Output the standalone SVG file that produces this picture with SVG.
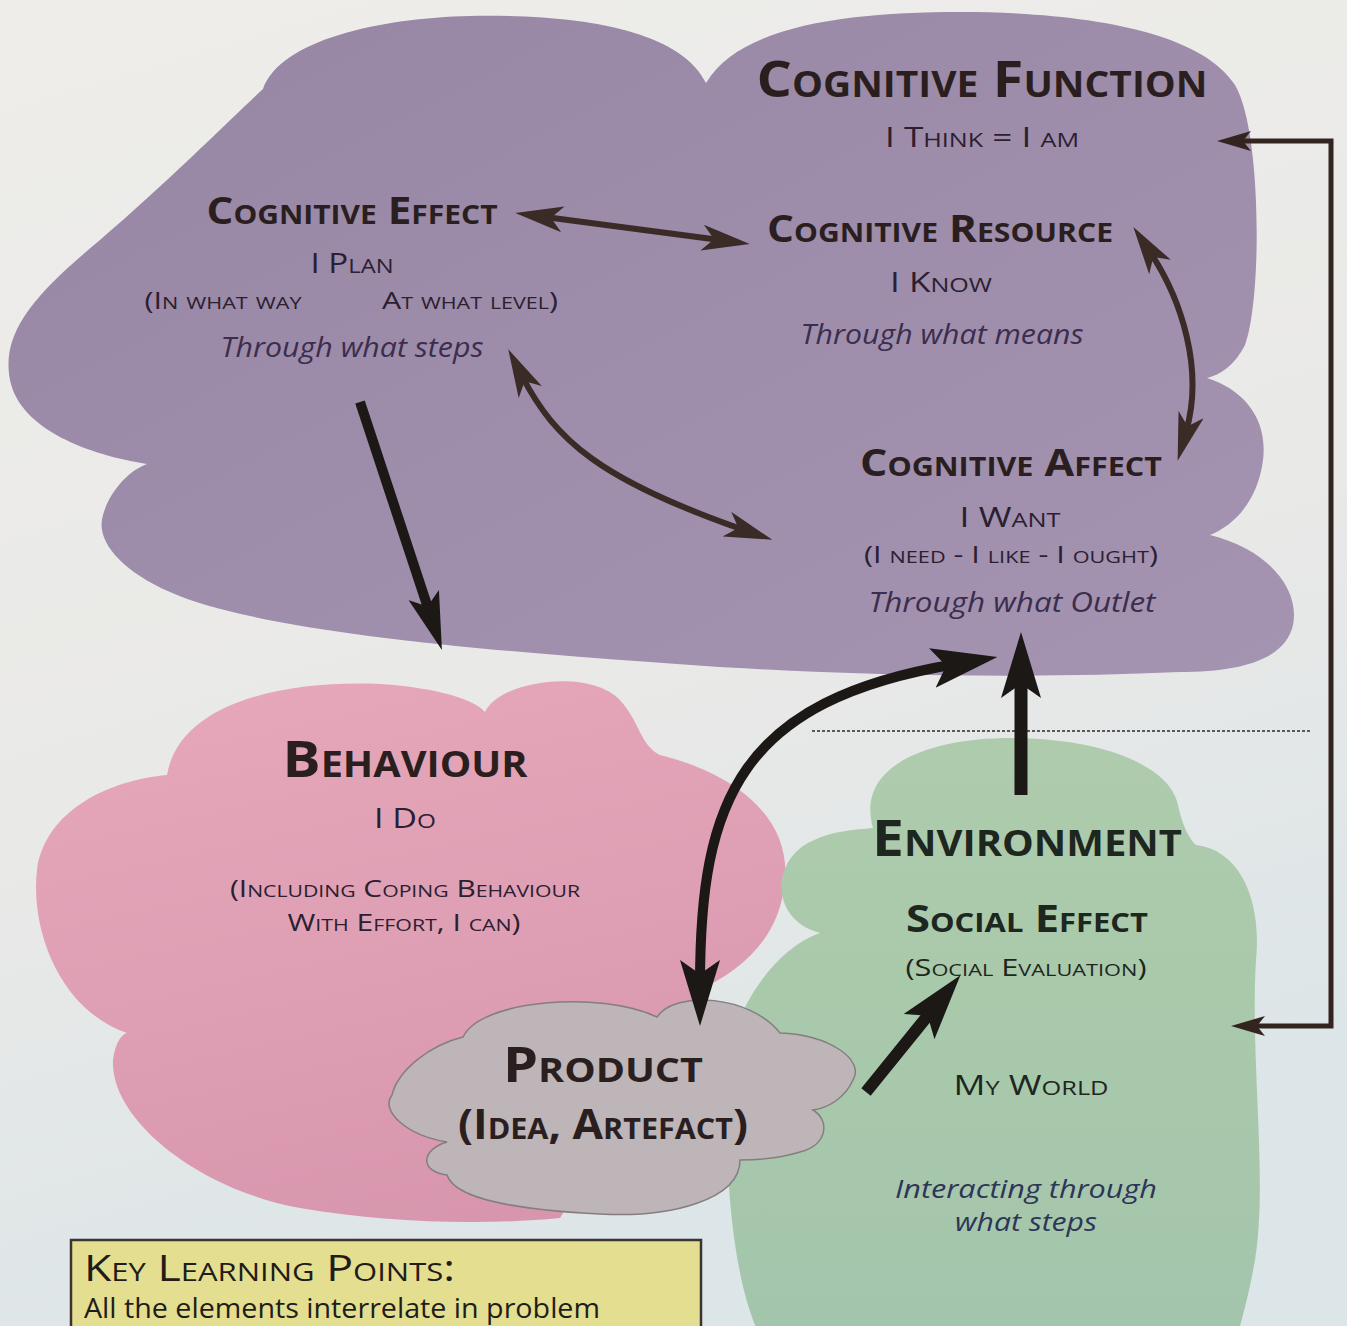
<svg xmlns="http://www.w3.org/2000/svg" width="1347" height="1326" viewBox="0 0 1347 1326">
  <defs>
    <linearGradient id="bg" x1="0" y1="0" x2="0.3" y2="1">
      <stop offset="0" stop-color="#eeedea"/>
      <stop offset="0.6" stop-color="#e9e9e7"/>
      <stop offset="1" stop-color="#dce5e8"/>
    </linearGradient>
    <linearGradient id="purple" x1="0" y1="0" x2="1" y2="1">
      <stop offset="0" stop-color="#9785a4"/>
      <stop offset="1" stop-color="#a494b1"/>
    </linearGradient>
    <linearGradient id="pink" x1="0.3" y1="0" x2="0.6" y2="1">
      <stop offset="0" stop-color="#e6a7ba"/>
      <stop offset="1" stop-color="#d796ad"/>
    </linearGradient>
    <linearGradient id="green" x1="0" y1="0" x2="0" y2="1">
      <stop offset="0" stop-color="#aeccac"/>
      <stop offset="1" stop-color="#a3c5ab"/>
    </linearGradient>
    <marker id="mb" viewBox="0 -13 48 26" refX="18" refY="0" markerWidth="48" markerHeight="26" markerUnits="userSpaceOnUse" orient="auto-start-reverse">
      <path d="M0,-13 L48,0 L0,13 L12,0 Z" fill="#3a2b27"/>
    </marker>
    <marker id="mk" viewBox="0 -16 58 32" refX="20" refY="0" markerWidth="58" markerHeight="32" markerUnits="userSpaceOnUse" orient="auto-start-reverse">
      <path d="M0,-16 L58,0 L0,16 L12,0 Z" fill="#1c1816"/>
    </marker>
    <marker id="mK" viewBox="0 -20 66 40" refX="24" refY="0" markerWidth="66" markerHeight="40" markerUnits="userSpaceOnUse" orient="auto-start-reverse">
      <path d="M0,-20 L66,0 L0,20 L14,0 Z" fill="#1c1816"/>
    </marker>
    <marker id="mt" viewBox="0 -10 34 20" refX="10" refY="0" markerWidth="34" markerHeight="20" markerUnits="userSpaceOnUse" orient="auto-start-reverse">
      <path d="M0,-10 L34,0 L0,10 L8,0 Z" fill="#33241f"/>
    </marker>
  </defs>
  <style>
    text { font-family: "Open Sans", "Noto Sans", "Liberation Sans", sans-serif; text-anchor: middle; }
    .sc { font-variant: small-caps; }
    .t1 { font-size: 50px; font-weight: 700; fill: #2a1f1e; }
    .t2 { font-size: 38px; font-weight: 700; fill: #2a1f1e; }
    .s1 { font-size: 28px; font-weight: 500; fill: #2b2030; }
    .s2 { font-size: 24px; font-weight: 500; fill: #2b2030; }
    .it { font-size: 27px; font-style: italic; font-weight: 500; fill: #3b2d4d; }
    .itg { font-size: 25px; font-style: italic; font-weight: 500; fill: #2d3558; }
    .g { fill: #1e2620; }
    .ab { fill: none; stroke: #3a2b27; stroke-width: 6; }
    .ak { fill: none; stroke: #1c1816; }
  </style>
  <rect x="0" y="0" width="1347" height="1326" fill="url(#bg)"/>

  <g id="cognitive-function">
    <path d="M263,89 C280,40 380,18 470,16 C580,14 680,30 706,83 C740,25 850,12 960,12 C1080,12 1200,30 1235,85 C1262,130 1262,300 1245,345 C1235,365 1220,375 1207,378 C1245,390 1268,420 1263,460 C1258,500 1235,525 1210,535 C1270,550 1300,590 1293,625 C1285,660 1240,672 1180,672 C1000,680 800,674 650,662 C450,648 250,628 170,592 C120,570 95,540 103,515 C110,490 130,470 147,464 C90,455 20,430 10,380 C0,330 40,290 100,240 C170,180 240,110 263,89 Z" fill="url(#purple)"/>
    <text class="t1 sc" x="982" y="97" textLength="451" lengthAdjust="spacingAndGlyphs">Cognitive Function</text>
    <text class="s1 sc" x="982" y="147" textLength="194" lengthAdjust="spacingAndGlyphs">I Think = I am</text>
  </g>

  <g id="cognitive-effect">
    <text class="t2 sc" x="352" y="224" textLength="291" lengthAdjust="spacingAndGlyphs">Cognitive Effect</text>
    <text class="s1 sc" x="352" y="273" textLength="83" lengthAdjust="spacingAndGlyphs">I Plan</text>
    <text class="s2 sc" x="223" y="309" textLength="157" lengthAdjust="spacingAndGlyphs">(In what way</text>
    <text class="s2 sc" x="470" y="309" textLength="176" lengthAdjust="spacingAndGlyphs">At what level)</text>
    <text class="it" x="352" y="357" textLength="263" lengthAdjust="spacingAndGlyphs">Through what steps</text>
  </g>

  <g id="cognitive-resource">
    <text class="t2 sc" x="940" y="242" textLength="346" lengthAdjust="spacingAndGlyphs">Cognitive Resource</text>
    <text class="s1 sc" x="941" y="292" textLength="102" lengthAdjust="spacingAndGlyphs">I Know</text>
    <text class="it" x="942" y="344" textLength="283" lengthAdjust="spacingAndGlyphs">Through what means</text>
  </g>

  <g id="cognitive-affect">
    <text class="t2 sc" x="1011" y="476" textLength="302" lengthAdjust="spacingAndGlyphs">Cognitive Affect</text>
    <text class="s1 sc" x="1010" y="527" textLength="101" lengthAdjust="spacingAndGlyphs">I Want</text>
    <text class="s2 sc" x="1011" y="563" textLength="294" lengthAdjust="spacingAndGlyphs">(I need - I like - I ought)</text>
    <text class="it" x="1012" y="612" textLength="287" lengthAdjust="spacingAndGlyphs">Through what Outlet</text>
  </g>

  <g id="behaviour">
    <path d="M167,775 C180,700 290,680 380,684 C440,688 475,700 485,712 C500,680 590,668 620,700 C640,722 640,745 660,755 C740,775 790,820 785,880 C780,940 740,970 700,990 L560,1218 C480,1226 380,1222 300,1208 C200,1190 110,1120 113,1060 C115,1045 120,1035 127,1033 C60,1010 30,930 37,870 C45,810 110,780 167,775 Z" fill="url(#pink)"/>
    <text class="t1 sc" x="405" y="777" textLength="245" lengthAdjust="spacingAndGlyphs">Behaviour</text>
    <text class="s1 sc" x="405" y="828" textLength="62" lengthAdjust="spacingAndGlyphs">I Do</text>
    <text class="s2 sc" x="405" y="897" textLength="350" lengthAdjust="spacingAndGlyphs">(Including Coping Behaviour</text>
    <text class="s2 sc" x="404" y="931" textLength="233" lengthAdjust="spacingAndGlyphs">With Effort, I can)</text>
  </g>

  <g id="environment">
    <path d="M873,828 C855,765 930,738 1010,738 C1100,738 1170,765 1178,805 C1182,825 1190,840 1196,845 C1240,850 1262,900 1256,960 C1250,1060 1268,1180 1255,1260 C1248,1300 1240,1326 1236,1340 L762,1340 C730,1280 722,1150 730,1060 C730,1020 770,950 820,933 C770,920 770,860 812,841 C835,830 855,830 873,828 Z" fill="url(#green)"/>
    <text class="t1 sc g" x="1027" y="856" textLength="310" lengthAdjust="spacingAndGlyphs">Environment</text>
    <text class="t2 sc g" x="1027" y="932" textLength="242" lengthAdjust="spacingAndGlyphs">Social Effect</text>
    <text class="s2 sc g" x="1026" y="976" textLength="241" lengthAdjust="spacingAndGlyphs">(Social Evaluation)</text>
    <text class="s1 sc g" x="1031" y="1095" textLength="155" lengthAdjust="spacingAndGlyphs">My World</text>
    <text class="itg" x="1026" y="1198" textLength="262" lengthAdjust="spacingAndGlyphs">Interacting through</text>
    <text class="itg" x="1026" y="1231" textLength="142" lengthAdjust="spacingAndGlyphs">what steps</text>
  </g>

  <g id="product">
    <path d="M463,1037 C480,1000 600,990 657,1017 C675,990 750,995 780,1033 C830,1035 865,1060 853,1080 C845,1098 828,1108 813,1110 C830,1120 828,1145 800,1152 C780,1158 760,1160 740,1160 C740,1200 670,1218 600,1214 C520,1210 455,1200 447,1175 C420,1172 420,1150 447,1142 C405,1135 380,1110 392,1095 C398,1070 430,1045 463,1037 Z" fill="#bdb5b8" stroke="#857d81" stroke-width="1.5"/>
    <text class="t1 sc" x="603" y="1082" style="font-size:48px" textLength="200" lengthAdjust="spacingAndGlyphs">Product</text>
    <text class="t1 sc" x="603" y="1139" style="font-size:42px" textLength="290" lengthAdjust="spacingAndGlyphs">(Idea, Artefact)</text>
  </g>

  <g id="key-learning-points">
    <rect x="71" y="1240" width="630" height="100" fill="#e4de90" stroke="#3a3530" stroke-width="2.5"/>
    <text class="sc" x="84" y="1281" style="text-anchor:start;font-size:36px;font-weight:500;fill:#221c18" textLength="371" lengthAdjust="spacingAndGlyphs">Key Learning Points:</text>
    <text x="84" y="1318" style="text-anchor:start;font-size:27px;font-weight:500;fill:#221c18" textLength="516" lengthAdjust="spacingAndGlyphs">All the elements interrelate in problem</text>
  </g>

  <g id="connectors">
    <line x1="812" y1="731" x2="1312" y2="731" stroke="#5a5a5a" stroke-width="2" stroke-dasharray="3 2"/>
    <path class="ab" d="M545,217 L720,240" marker-start="url(#mb)" marker-end="url(#mb)"/>
    <path class="ab" d="M1150,252 C1182,300 1204,370 1186,432" marker-start="url(#mb)" marker-end="url(#mb)"/>
    <path class="ab" d="M522,376 C555,440 600,480 744,530" marker-start="url(#mb)" marker-end="url(#mb)"/>
    <path class="ak" stroke-width="10" d="M360,402 L430,614" marker-end="url(#mk)"/>
    <path class="ak" stroke-width="10" d="M700,984 C700,800 740,700 956,664" marker-start="url(#mK)" marker-end="url(#mK)"/>
    <path class="ak" stroke-width="13" d="M1021,795 L1021,674" marker-end="url(#mK)"/>
    <path class="ak" stroke-width="12" d="M866,1092 L934,1008" marker-end="url(#mK)"/>
    <path d="M1241,141 L1331,141 L1331,1026 L1255,1026" fill="none" stroke="#33241f" stroke-width="5" marker-start="url(#mt)" marker-end="url(#mt)"/>
  </g>
</svg>
